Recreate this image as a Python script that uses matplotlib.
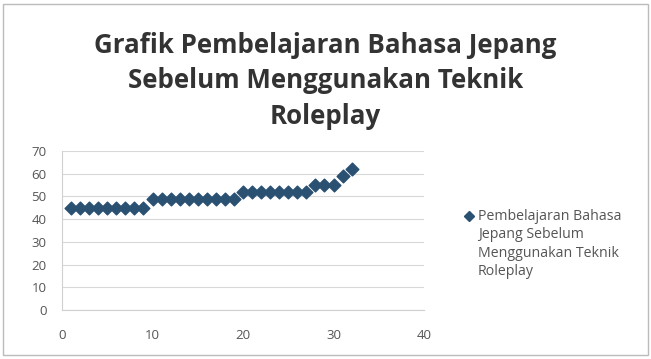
import matplotlib.pyplot as plt
from matplotlib.lines import Line2D
import numpy as np

# Nilai siswa (urutan 1..32)
siswa = np.arange(1, 33)
nilai = [45] * 9 + [49] * 10 + [52] * 8 + [55] * 3 + [59, 62]

judul = "Grafik Pembelajaran Bahasa Jepang\nSebelum Menggunakan Teknik\nRoleplay"
label_seri = "Pembelajaran Bahasa\nJepang Sebelum\nMenggunakan Teknik\nRoleplay"

plt.rcParams['font.family'] = ['Open Sans', 'DejaVu Sans']
warna = '#2a5072'

fig = plt.figure(figsize=(6.51, 3.59), dpi=100)
ax = fig.add_axes([62 / 651, 1 - 310 / 359, (424 - 62) / 651, (310 - 151) / 359])

ax.scatter(siswa, nilai, marker='D', s=42, color=warna, zorder=3)

ax.set_xlim(0, 40)
ax.set_ylim(0, 70)
ax.set_xticks(range(0, 41, 10))
ax.set_yticks(range(0, 71, 10))
ax.grid(axis='y', color='#d8d8d8', linewidth=0.8)
ax.tick_params(labelsize=9.5, colors='#555555', length=0)
ax.tick_params(axis='y', pad=11)
ax.tick_params(axis='x', pad=14)
for s in ['top', 'right']:
    ax.spines[s].set_visible(False)
ax.spines['left'].set_color('#d0d0d0')
ax.spines['bottom'].set_color('#d0d0d0')

fig.text(0.5, 1 - 81 / 359, judul, ha='center', va='center', fontsize=18.6,
         fontweight='bold', color='#333333', linespacing=1.4)

# keterangan seri (legenda)
fig.add_artist(Line2D([469 / 651], [1 - 216 / 359], marker='D', markersize=5,
                      color=warna, transform=fig.transFigure))
fig.text(478 / 651, 1 - 209 / 359, label_seri, ha='left', va='top', fontsize=10.2,
         color='#555555', linespacing=1.3)

# bingkai grafik
fig.patches.append(plt.Rectangle((0.005, 0.01), 0.99, 0.98, transform=fig.transFigure,
                                 fill=False, edgecolor='#bbbbbb', linewidth=1))

fig.savefig('out.png', dpi=100)
